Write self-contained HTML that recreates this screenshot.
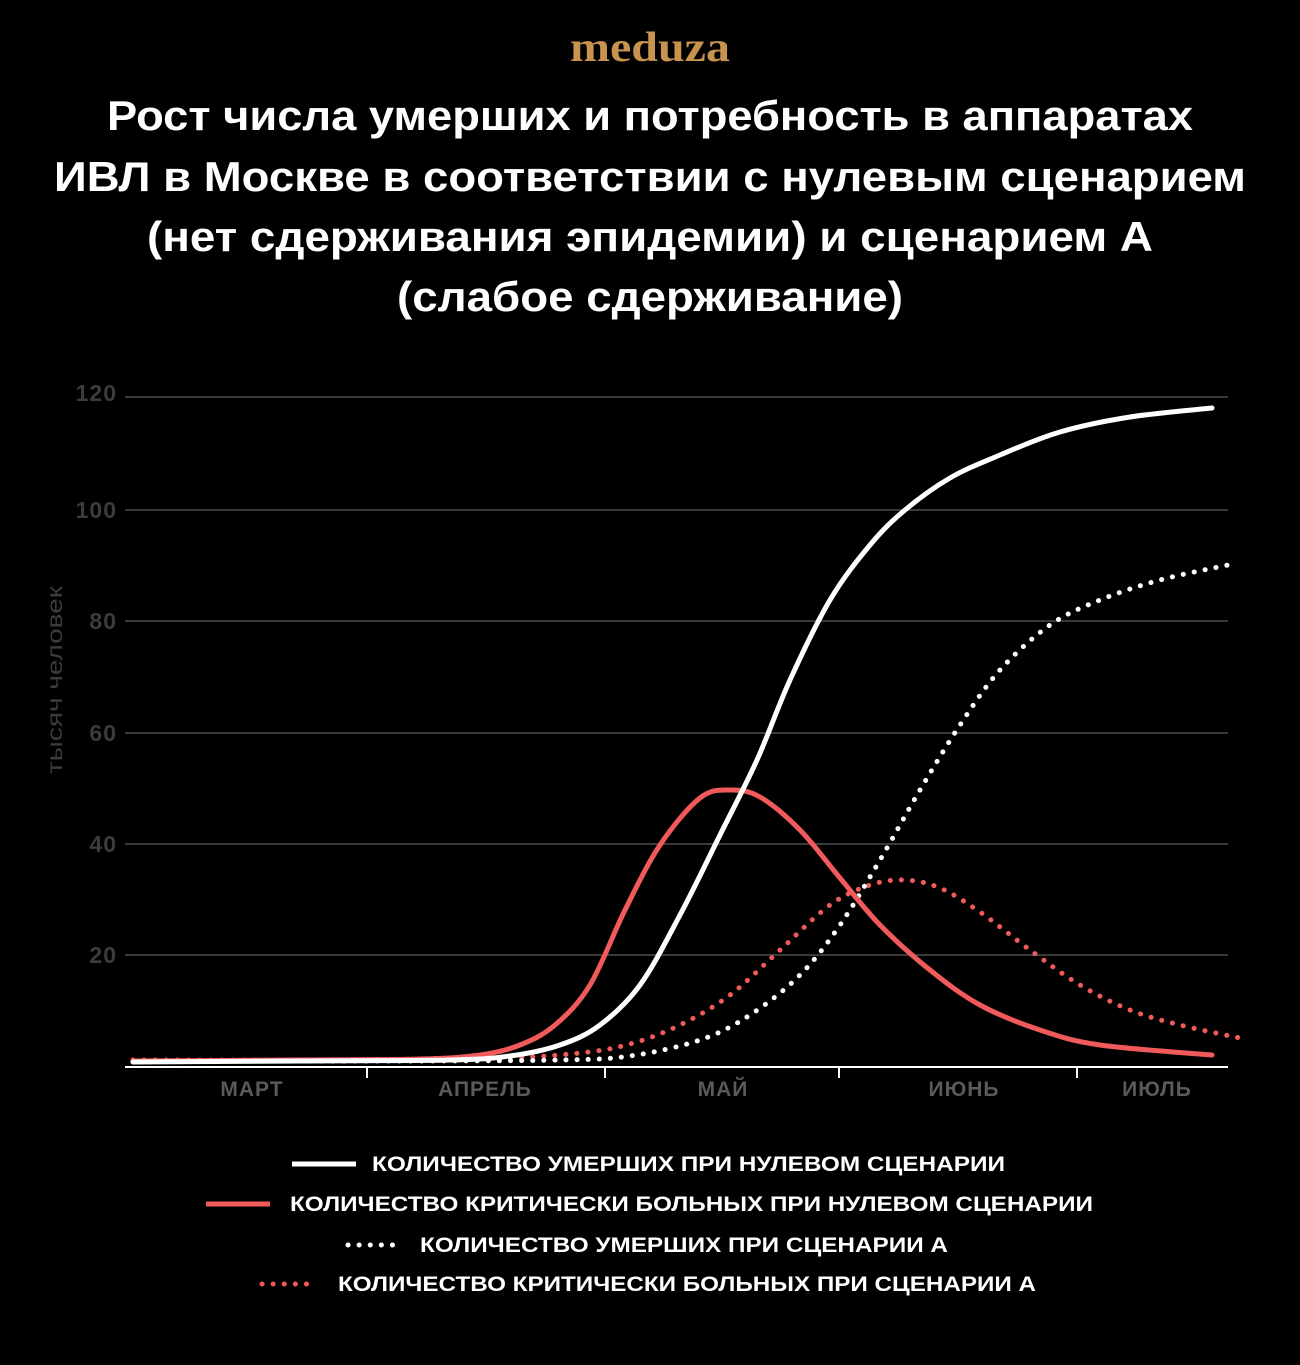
<!DOCTYPE html>
<html><head><meta charset="utf-8"><style>
body{margin:0;background:#000;width:1300px;height:1360px;overflow:hidden;font-family:"Liberation Sans",sans-serif}
</style></head><body>
<svg id="s" width="1300" height="1360" viewBox="0 0 1300 1360" xmlns="http://www.w3.org/2000/svg">
<rect width="1300" height="1360" fill="#000"/>
<text x="650" y="61" text-anchor="middle" font-family="Liberation Serif,serif" font-weight="bold" font-size="42" fill="#c8924f" textLength="160" lengthAdjust="spacingAndGlyphs">meduza</text>
<g font-family="Liberation Sans,sans-serif" font-weight="bold" font-size="42" fill="#fff" text-anchor="middle">
<text x="650" y="130" textLength="1086" lengthAdjust="spacingAndGlyphs">Рост числа умерших и потребность в аппаратах</text>
<text x="650" y="191" textLength="1192" lengthAdjust="spacingAndGlyphs">ИВЛ в Москве в соответствии с нулевым сценарием</text>
<text x="650" y="251" textLength="1006" lengthAdjust="spacingAndGlyphs">(нет сдерживания эпидемии) и сценарием А</text>
<text x="650" y="311" textLength="506" lengthAdjust="spacingAndGlyphs">(слабое сдерживание)</text>
</g>
<g stroke="#3a3a3a" stroke-width="2">
<line x1="125" x2="1228" y1="397" y2="397"/><line x1="125" x2="1228" y1="510" y2="510"/>
<line x1="125" x2="1228" y1="621" y2="621"/><line x1="125" x2="1228" y1="733" y2="733"/>
<line x1="125" x2="1228" y1="844" y2="844"/><line x1="125" x2="1228" y1="955" y2="955"/>
</g>
<g font-weight="bold" font-size="23" fill="#3c3c3c" text-anchor="end" letter-spacing="1">
<text x="117" y="401">120</text><text x="117" y="518">100</text><text x="117" y="629">80</text>
<text x="117" y="741">60</text><text x="117" y="852">40</text><text x="117" y="963">20</text>
</g>
<text transform="translate(62,680) rotate(-90)" text-anchor="middle" font-size="21" fill="#3c3c3c" textLength="188" lengthAdjust="spacingAndGlyphs">тысяч человек</text>
<line x1="125" x2="1228" y1="1067" y2="1067" stroke="#fff" stroke-width="2"/>
<g stroke="#fff" stroke-width="2"><line x1="367" x2="367" y1="1067" y2="1078"/><line x1="605" x2="605" y1="1067" y2="1078"/><line x1="839" x2="839" y1="1067" y2="1078"/><line x1="1077" x2="1077" y1="1067" y2="1078"/></g>
<g font-weight="bold" font-size="21" fill="#5a5a5a" text-anchor="middle" letter-spacing="1">
<text x="252" y="1096">МАРТ</text><text x="485" y="1096">АПРЕЛЬ</text><text x="723" y="1096">МАЙ</text><text x="964" y="1096">ИЮНЬ</text><text x="1157" y="1096">ИЮЛЬ</text>
</g>
<g id="curves" fill="none" stroke-linejoin="round" stroke-linecap="round" stroke-width="5">
<polyline stroke="#f05a5a" stroke-dasharray="0.1 11" points="133,1060 350,1060 500,1058 580,1053 630,1044 680,1025 730,995 780,950 830,905 870,885 905,880 940,888 980,912 1030,950 1080,985 1130,1010 1180,1025 1240,1038"/>
<polyline stroke="#fff" stroke-dasharray="0.1 11" points="133,1061 400,1061 560,1060 630,1056 700,1040 750,1015 800,975 840,925 880,860 920,790 960,725 1000,670 1050,625 1100,600 1160,580 1228,565"/>
<polyline stroke="#f05a5a" points="133,1061 300,1060 420,1059 480,1055 520,1045 555,1025 590,985 625,910 660,845 700,798 730,790 760,797 800,830 840,878 880,925 930,970 980,1005 1040,1030 1100,1045 1212,1055"/>
<polyline stroke="#fff" points="133,1062 300,1061 450,1060 510,1056 560,1045 600,1025 640,985 680,915 720,835 757,760 790,680 830,600 870,545 905,510 950,478 1000,455 1060,432 1130,417 1212,408"/>
</g>
<g font-weight="bold" font-size="21" fill="#fff">
<line x1="292" x2="356" y1="1164" y2="1164" stroke="#fff" stroke-width="5"/>
<text x="372" y="1171" textLength="633" lengthAdjust="spacingAndGlyphs">КОЛИЧЕСТВО УМЕРШИХ ПРИ НУЛЕВОМ СЦЕНАРИИ</text>
<line x1="206" x2="270" y1="1204" y2="1204" stroke="#f05a5a" stroke-width="5"/>
<text x="290" y="1211" textLength="803" lengthAdjust="spacingAndGlyphs">КОЛИЧЕСТВО КРИТИЧЕСКИ БОЛЬНЫХ ПРИ НУЛЕВОМ СЦЕНАРИИ</text>
<line x1="348" x2="402" y1="1245" y2="1245" stroke="#fff" stroke-width="5" stroke-linecap="round" stroke-dasharray="0.1 11"/>
<text x="420" y="1252" textLength="528" lengthAdjust="spacingAndGlyphs">КОЛИЧЕСТВО УМЕРШИХ ПРИ СЦЕНАРИИ А</text>
<line x1="262" x2="316" y1="1284" y2="1284" stroke="#f05a5a" stroke-width="5" stroke-linecap="round" stroke-dasharray="0.1 11"/>
<text x="338" y="1291" textLength="698" lengthAdjust="spacingAndGlyphs">КОЛИЧЕСТВО КРИТИЧЕСКИ БОЛЬНЫХ ПРИ СЦЕНАРИИ А</text>
</g>
</svg>
<script>
document.querySelectorAll('#curves polyline').forEach(function(pl){
 var p=pl.getAttribute('points').trim().split(/\s+/).map(function(s){return s.split(',').map(Number)});
 var d='M'+p[0][0]+','+p[0][1];
 for(var i=0;i<p.length-1;i++){
  var p0=p[i-1]||p[i],p1=p[i],p2=p[i+1],p3=p[i+2]||p2;
  var c1x=p1[0]+(p2[0]-p0[0])/6,c1y=p1[1]+(p2[1]-p0[1])/6,c2x=p2[0]-(p3[0]-p1[0])/6,c2y=p2[1]-(p3[1]-p1[1])/6;
  d+=' C'+c1x+','+c1y+' '+c2x+','+c2y+' '+p2[0]+','+p2[1];
 }
 var path=document.createElementNS('http://www.w3.org/2000/svg','path');
 ['stroke','stroke-dasharray'].forEach(function(a){if(pl.getAttribute(a))path.setAttribute(a,pl.getAttribute(a));});
 path.setAttribute('d',d);
 pl.parentNode.replaceChild(path,pl);
});
</script>
</body></html>
